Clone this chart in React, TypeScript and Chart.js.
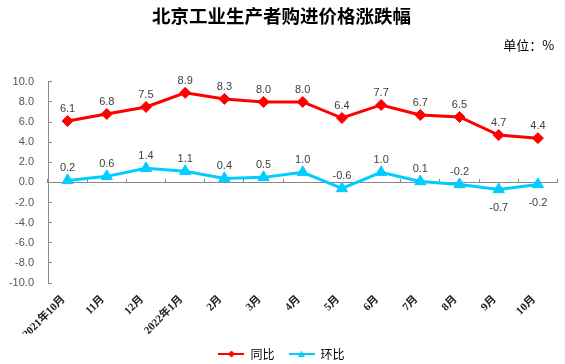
import React, { useEffect, useRef } from 'react';
import { Chart, registerables } from 'chart.js';

Chart.register(...registerables);

const categories = ['2021年10月', '11月', '12月', '2022年1月', '2月', '3月', '4月', '5月', '6月', '7月', '8月', '9月', '10月'];
const yoyValues = [6.1, 6.8, 7.5, 8.9, 8.3, 8.0, 8.0, 6.4, 7.7, 6.7, 6.5, 4.7, 4.4];
const momValues = [0.2, 0.6, 1.4, 1.1, 0.4, 0.5, 1.0, -0.6, 1.0, 0.1, -0.2, -0.7, -0.2];
const momLabelBelow = [false, false, false, false, false, false, false, false, false, false, false, true, true];
const seriesNames = ['同比', '环比'];
const yMin = -10;
const yMax = 10;
const yStep = 2;
const titleText = '北京工业生产者购进价格涨跌幅';
const unitText = '单位：%   ';

const RED = '#FF0000';
const CYAN = '#00CCFF';

function legendIcon(color: string, style: 'diamond' | 'triangle') {
  const c = document.createElement('canvas');
  c.width = 26;
  c.height = 10;
  const g = c.getContext('2d')!;
  g.strokeStyle = color;
  g.lineWidth = 2;
  g.beginPath();
  g.moveTo(0, 5);
  g.lineTo(26, 5);
  g.stroke();
  g.fillStyle = color;
  g.beginPath();
  if (style === 'diamond') {
    g.moveTo(13, 1.5);
    g.lineTo(16.5, 5);
    g.lineTo(13, 8.5);
    g.lineTo(9.5, 5);
  } else {
    g.moveTo(13, 1.5);
    g.lineTo(16.5, 8);
    g.lineTo(9.5, 8);
  }
  g.closePath();
  g.fill();
  return c;
}

const pointLabelPlugin = {
  id: 'pointLabels',
  afterDatasetsDraw(chart: any) {
    const ctx = chart.ctx;
    ctx.save();
    ctx.font = '11px "Liberation Sans", sans-serif';
    ctx.fillStyle = '#404040';
    ctx.textAlign = 'center';
    ctx.textBaseline = 'middle';
    chart.data.datasets.forEach((ds: any, di: number) => {
      const meta = chart.getDatasetMeta(di);
      meta.data.forEach((pt: any, i: number) => {
        const v = ds.data[i] as number;
        const below = di === 1 && momLabelBelow[i];
        ctx.fillText(v.toFixed(1), pt.x, below ? pt.y + 19 : pt.y - 12);
      });
    });
    ctx.restore();
  },
};

export default function App() {
  const ref = useRef<HTMLCanvasElement>(null);

  useEffect(() => {
    if (!ref.current) return;
    const icons = [legendIcon(RED, 'diamond'), legendIcon(CYAN, 'triangle')];
    const chart = new Chart(ref.current, {
      type: 'line',
      data: {
        labels: categories,
        datasets: [
          {
            label: seriesNames[0],
            data: yoyValues,
            borderColor: RED,
            backgroundColor: RED,
            borderWidth: 3,
            pointStyle: 'rectRot',
            pointRadius: 5.5,
            pointBorderWidth: 1,
            tension: 0,
          },
          {
            label: seriesNames[1],
            data: momValues,
            borderColor: CYAN,
            backgroundColor: CYAN,
            borderWidth: 3,
            pointStyle: 'triangle',
            pointRadius: 6.5,
            pointBorderWidth: 1,
            tension: 0,
          },
        ],
      },
      options: {
        responsive: false,
        animation: false,
        layout: { padding: { left: 0, right: 2, top: 0, bottom: -6 } },
        scales: {
          x: {
            type: 'category',
            offset: true,
            grid: { display: false },
            border: { display: false },
            ticks: {
              autoSkip: false,
              minRotation: 45,
              maxRotation: 45,
              padding: 2,
              labelOffset: -4,
              color: '#222',
              font: { family: '"Liberation Serif", "Noto Sans CJK SC", serif', size: 11, weight: 'bold' },
            },
            afterFit: (s: any) => {
              s.height = 51;
            },
          },
          xZero: {
            type: 'category',
            position: { y: 0 },
            offset: true,
            grid: { offset: true, drawOnChartArea: false, drawTicks: true, tickLength: -4, color: '#888' },
            border: { color: '#888', width: 1 },
            ticks: { display: false },
          },
          y: {
            min: yMin,
            max: yMax,
            ticks: {
              stepSize: yStep,
              padding: 18,
              color: '#555',
              font: { family: '"Liberation Sans", sans-serif', size: 11 },
              callback: (v: any) => Number(v).toFixed(1),
            },
            grid: { drawOnChartArea: false, drawTicks: true, tickLength: -4, color: '#888' },
            border: { color: '#888', width: 1 },
            afterFit: (s: any) => {
              s.width = 48;
            },
          },
        } as any,
        plugins: {
          title: {
            display: true,
            text: titleText,
            color: '#000',
            font: { family: '"Noto Sans CJK SC", sans-serif', size: 18.5, weight: 'bold' },
            padding: { top: 5, bottom: 9 },
          },
          subtitle: {
            display: true,
            text: unitText,
            align: 'end',
            color: '#000',
            font: { family: '"Noto Sans CJK SC", sans-serif', size: 13 },
            padding: { top: 1, bottom: 29 },
          },
          legend: {
            position: 'bottom',
            labels: {
              usePointStyle: true,
              pointStyleWidth: 26,
              padding: 14,
              color: '#333',
              font: { family: '"Noto Sans CJK SC", sans-serif', size: 12 },
              generateLabels: (ch: any) =>
                ch.data.datasets.map((ds: any, i: number) => ({
                  text: ds.label,
                  pointStyle: icons[i],
                  fillStyle: ds.borderColor,
                  strokeStyle: ds.borderColor,
                  lineWidth: 0,
                  hidden: false,
                  datasetIndex: i,
                })),
            },
          },
          tooltip: { enabled: false },
        },
      } as any,
      plugins: [pointLabelPlugin],
    });
    return () => chart.destroy();
  }, []);

  return (
    <div style={{ position: 'absolute', left: 0, top: 0, width: 565, height: 364, background: '#fff' }}>
      <canvas ref={ref} width={565} height={364} style={{ display: 'block' }} />
    </div>
  );
}
